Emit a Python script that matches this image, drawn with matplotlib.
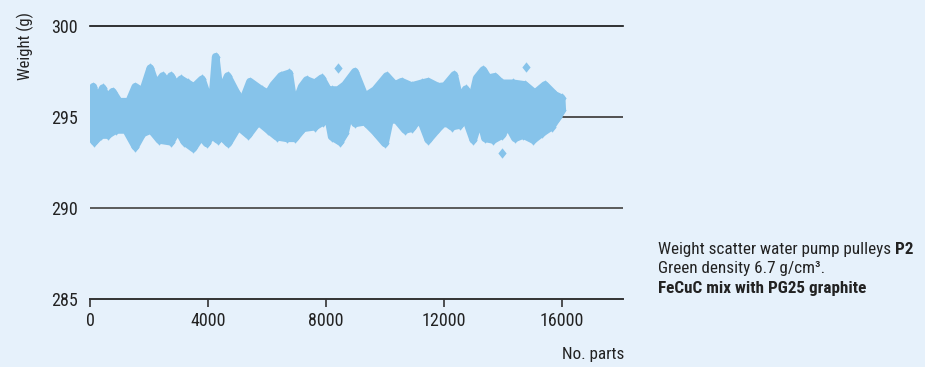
import matplotlib
matplotlib.use("Agg")
import matplotlib.pyplot as plt

BG = "#e6f1fb"
DOT = "#86c3ea"
INK = "#222222"

plt.rcParams["font.family"] = ["Roboto Condensed", "Archivo Narrow",
                               "Barlow Semi Condensed", "DejaVu Sans"]

# upper edge of the weight band (no. parts, grams)
upper_x = [0, 112, 237, 431, 576, 769, 983, 1322, 1536, 1786, 2044, 2237, 2464, 2610,
           2746, 2915, 3085, 3312, 3525, 3797, 4034, 4125, 4261, 4407, 4668, 4973, 5142,
           5424, 5820, 6044, 6214, 6475, 6756, 6925, 7176, 7346, 7627, 7854, 8078, 8193,
           8417, 8644, 8983, 9322, 9661, 10058, 10339, 10566, 10905, 11244, 11468, 11807,
           12034, 12349, 12542, 12736, 12939, 13108, 13332, 13502, 13729, 13956, 14349,
           14746, 15085, 15424, 15763, 15990]
upper_w = [295.93, 296.66, 295.88, 296.58, 296.04, 296.39, 295.84, 295.84, 296.66, 296.39,
           297.68, 296.76, 297.25, 296.76, 297.25, 296.76, 297.07, 296.85, 296.65, 297.07,
           295.93, 295.57, 298.31, 296.30, 297.25, 296.30, 295.75, 296.94, 296.48, 296.30,
           296.76, 297.25, 297.40, 295.57, 296.66, 297.03, 296.85, 297.13, 296.48, 296.48,
           296.48, 296.76, 297.49, 296.12, 296.48, 297.25, 296.76, 296.94, 296.70, 296.85,
           296.94, 296.66, 296.70, 297.31, 295.93, 296.52, 295.93, 297.13, 297.58, 297.13,
           297.21, 296.85, 296.85, 296.76, 296.30, 296.76, 296.21, 296.03]

# lower edge of the weight band
lower_x = [0, 34, 146, 373, 600, 881, 1220, 1536, 1786, 2068, 2349, 2746, 2973, 3197,
           3502, 3763, 3956, 4125, 4329, 4464, 4688, 5027, 5366, 5705, 6044, 6329, 6668,
           6949, 7231, 7627, 7909, 8078, 8193, 8475, 8644, 8814, 8983, 9322, 9661, 10000,
           10169, 10396, 10678, 10905, 11186, 11468, 11807, 12034, 12261, 12542, 12712,
           12993, 13220, 13390, 13671, 13976, 14159, 14407, 14688, 15027, 15312, 15651,
           15875, 16010]
lower_w = [294.56, 293.92, 293.64, 294.01, 294.01, 294.29, 294.29, 293.37, 294.10, 294.29,
           293.74, 293.64, 294.29, 293.64, 293.28, 293.92, 293.55, 294.01, 293.74, 293.92,
           293.55, 294.47, 294.01, 294.74, 294.29, 293.92, 293.83, 293.83, 294.38, 294.47,
           294.74, 294.93, 293.92, 293.64, 294.10, 295.29, 294.65, 294.74, 294.19, 293.55,
           294.84, 294.84, 294.29, 294.38, 294.93, 293.74, 294.38, 294.74, 294.47, 294.56,
           295.02, 293.74, 294.93, 293.83, 293.74, 294.01, 294.56, 293.83, 294.01, 293.74,
           294.10, 294.47, 295.02, 295.38]

# single parts lying clear of the band
outlier_x = [8417, 14780, 13976]
outlier_w = [297.70, 297.76, 293.04]

x_ticks = [0, 4000, 8000, 12000, 16000]
y_ticks = [285, 290, 295, 300]

fig = plt.figure(figsize=(9.25, 3.67), dpi=100, facecolor=BG)
ax = fig.add_axes([90 / 925, 1 - 299 / 367, 533 / 925, 273 / 367])
ax.set_facecolor(BG)
ax.set_xlim(0, 18070)
ax.set_ylim(285, 300)

# reference lines behind the band
ax.axhline(300, color="#111111", lw=1.2, clip_on=False, zorder=1)
ax.axhline(295, color="#505050", lw=1.4, zorder=1)
ax.axhline(290, color="#5a5a5a", lw=1.4, zorder=1)

# band: filled between the edges, outline thickened to reach the diamond tips
band_x = upper_x + lower_x[::-1]
band_w = upper_w + lower_w[::-1]
ax.fill(band_x, band_w, facecolor=DOT, edgecolor=DOT, lw=5.5, joinstyle="round", zorder=2)

diamond = [(0, 1), (0.8, 0), (0, -1), (-0.8, 0)]
for xs, ws in [(upper_x, upper_w), (lower_x, lower_w), (outlier_x, outlier_w)]:
    ax.scatter(xs, ws, marker=diamond, s=55, color=DOT, lw=0, zorder=3)

for side in ["top", "right", "left"]:
    ax.spines[side].set_visible(False)
ax.spines["bottom"].set_color("#333333")
ax.spines["bottom"].set_linewidth(1.4)

ax.set_xticks(x_ticks)
ax.set_yticks(y_ticks)
ax.tick_params(axis="x", length=6, width=1.2, color="#333333", labelsize=13,
               labelcolor=INK, pad=3)
ax.tick_params(axis="y", length=0, labelsize=13, labelcolor=INK, pad=9)

fig.text(25 / 925, 1 - 46 / 367, "Weight (g)", rotation=90, ha="center", va="center",
         fontsize=12, color=INK)
fig.text(624 / 925, 1 - 355 / 367, "No. parts", ha="right", va="center",
         fontsize=12.3, color=INK)

# caption block, first line mixes regular and bold
t1 = fig.text(658 / 925, 1 - 254 / 367, "Weight scatter water pump pulleys ",
              ha="left", va="baseline", fontsize=12.3, color=INK)
fig.canvas.draw()
bb = t1.get_window_extent()
fig.text(bb.x1 / fig.bbox.width, 1 - 254 / 367, "P2", ha="left", va="baseline",
         fontsize=12.3, color=INK, fontweight="bold")
fig.text(658 / 925, 1 - 273.3 / 367, "Green density 6.7 g/cm³.", ha="left",
         va="baseline", fontsize=12.3, color=INK)
fig.text(658 / 925, 1 - 292.7 / 367, "FeCuC mix with PG25 graphite", ha="left",
         va="baseline", fontsize=12.3, color=INK, fontweight="bold")

fig.savefig("out.png", dpi=100, facecolor=BG)
